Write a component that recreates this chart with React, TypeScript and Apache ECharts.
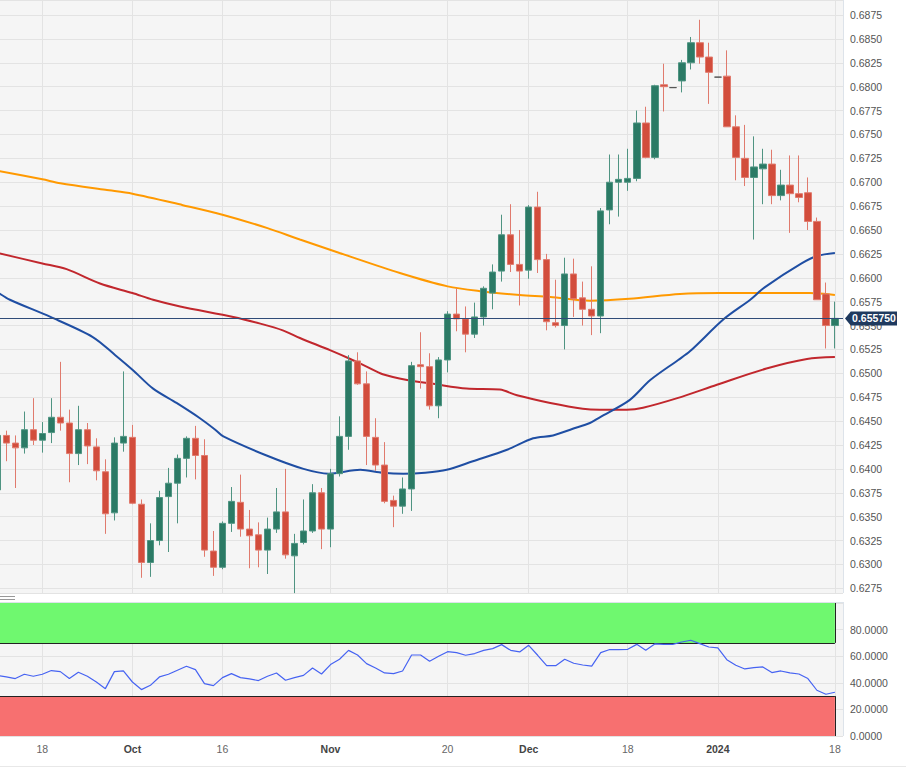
import React, { useEffect, useRef } from 'react';
import * as echarts from 'echarts';

// Daily candles, index 0 = 11 Sep 2023 ... index 93 = 18 Jan 2024 (trading days)
const opens = [
  0.6378, 0.6435, 0.6427, 0.6422, 0.6441, 0.6430, 0.6438, 0.6454, 0.6448, 0.6416,
  0.6441, 0.6423, 0.6397, 0.6354, 0.6427, 0.6433, 0.6363, 0.6302, 0.6325, 0.6371,
  0.6385, 0.6411, 0.6432, 0.6414, 0.6314, 0.6297, 0.6343, 0.6365, 0.6337, 0.6331,
  0.6315, 0.6337, 0.6355, 0.6309, 0.6323, 0.6335, 0.6375, 0.6337, 0.6395, 0.6434,
  0.6513, 0.6489, 0.6433, 0.6404, 0.6367, 0.6361, 0.6379, 0.6509, 0.6507, 0.6466,
  0.6514, 0.6562, 0.6557, 0.6541, 0.6559, 0.6584, 0.6607, 0.6645, 0.6614, 0.6608,
  0.6674, 0.6619, 0.6553, 0.6550, 0.6604, 0.6579, 0.6567, 0.6560, 0.6671, 0.6700,
  0.6700, 0.6704, 0.6762, 0.6726, 0.6802, 0.6799, 0.6806, 0.6825, 0.6846, 0.6831,
  0.6810, 0.6811, 0.6758, 0.6725, 0.6705, 0.6714, 0.6719, 0.6686, 0.6697, 0.6688,
  0.6689, 0.6659, 0.6583, 0.6550,
];
const closes = [
  0.6435, 0.6427, 0.6422, 0.6441, 0.6430, 0.6437, 0.6454, 0.6448, 0.6416, 0.6441,
  0.6424, 0.6398, 0.6353, 0.6427, 0.6434, 0.6364, 0.6302, 0.6325, 0.6370, 0.6385,
  0.6411, 0.6432, 0.6414, 0.6315, 0.6297, 0.6343, 0.6366, 0.6337, 0.6330, 0.6315,
  0.6337, 0.6355, 0.6310, 0.6322, 0.6335, 0.6375, 0.6337, 0.6395, 0.6434, 0.6513,
  0.6489, 0.6434, 0.6404, 0.6366, 0.6361, 0.6379, 0.6508, 0.6507, 0.6466, 0.6514,
  0.6562, 0.6557, 0.6541, 0.6559, 0.6589, 0.6606, 0.6645, 0.6614, 0.6607, 0.6674,
  0.6619, 0.6554, 0.6550, 0.6604, 0.6578, 0.6567, 0.6560, 0.6670, 0.6700, 0.6703,
  0.6704, 0.6762, 0.6726, 0.6801, 0.6800, 0.6799, 0.6825, 0.6846, 0.6831, 0.6815,
  0.6810, 0.6758, 0.6726, 0.6705, 0.6716, 0.6719, 0.6686, 0.6697, 0.6688, 0.6684,
  0.6659, 0.6577, 0.6550, 0.65575,
];
const lows = [
  0.6370, 0.6408, 0.6380, 0.6416, 0.6425, 0.6417, 0.6427, 0.6440, 0.6386, 0.6404,
  0.6405, 0.6388, 0.6332, 0.6346, 0.6418, 0.6363, 0.6286, 0.6287, 0.6320, 0.6313,
  0.6343, 0.6391, 0.6389, 0.6308, 0.6288, 0.6295, 0.6334, 0.6329, 0.6296, 0.6297,
  0.6290, 0.6333, 0.6306, 0.6270, 0.6321, 0.6333, 0.6316, 0.6318, 0.6392, 0.6420,
  0.6488, 0.6404, 0.6398, 0.6364, 0.6339, 0.6353, 0.6356, 0.6484, 0.6462, 0.6453,
  0.6501, 0.6544, 0.6522, 0.6537, 0.6550, 0.6567, 0.6596, 0.6606, 0.6571, 0.6599,
  0.6605, 0.6545, 0.6548, 0.6525, 0.6559, 0.6550, 0.6540, 0.6542, 0.6656, 0.6664,
  0.6691, 0.6701, 0.6725, 0.6724, 0.6774, 0.6799, 0.6794, 0.6818, 0.6824, 0.6782,
  0.6810, 0.6758, 0.6702, 0.6696, 0.6640, 0.6677, 0.6677, 0.6681, 0.6647, 0.6679,
  0.6650, 0.6577, 0.6526, 0.6526,
];
const highs = [
  0.6445, 0.6440, 0.6435, 0.6460, 0.6474, 0.6449, 0.6474, 0.6512, 0.6462, 0.6466,
  0.6448, 0.6432, 0.6410, 0.6433, 0.6502, 0.6446, 0.6368, 0.6343, 0.6377, 0.6401,
  0.6415, 0.6434, 0.6445, 0.6431, 0.6335, 0.6345, 0.6381, 0.6394, 0.6357, 0.6344,
  0.6349, 0.6380, 0.6400, 0.6332, 0.6368, 0.6384, 0.6380, 0.6400, 0.6455, 0.6519,
  0.6522, 0.6502, 0.6453, 0.6428, 0.6372, 0.6391, 0.6512, 0.6543, 0.6521, 0.6517,
  0.6565, 0.6589, 0.6570, 0.6574, 0.6591, 0.6614, 0.6666, 0.6677, 0.6650, 0.6676,
  0.6690, 0.6625, 0.6598, 0.6621, 0.6620, 0.6596, 0.6612, 0.6673, 0.6729, 0.6729,
  0.6735, 0.6775, 0.6779, 0.6802, 0.6824, 0.6799, 0.6828, 0.6852, 0.6870, 0.6846,
  0.6810, 0.6838, 0.6770, 0.6760, 0.6748, 0.6735, 0.6734, 0.6713, 0.6728, 0.6728,
  0.6705, 0.6663, 0.6595, 0.6575,
];

// Moving averages as [trading-day index, value]
const maBlue = [
  [0, 0.6585], [1.4, 0.6577], [5.9, 0.6559], [10.6, 0.6538], [13.1, 0.6519], [15.1, 0.6503],
  [17.3, 0.6484], [19.9, 0.6469], [22.5, 0.6453], [24.2, 0.6441], [25.1, 0.6434], [29.9, 0.6414],
  [34, 0.6400], [36.8, 0.6395], [40.3, 0.6399], [42.8, 0.6396], [45.1, 0.6395], [47.5, 0.6396],
  [49.9, 0.6399], [52.8, 0.6408], [56.6, 0.6420], [59.5, 0.6432], [61.7, 0.6435], [63.9, 0.6442],
  [65.8, 0.6448], [66.9, 0.6454], [70.2, 0.6472], [72.5, 0.6493], [75.6, 0.6514], [76.9, 0.6523],
  [80.7, 0.6557], [83.6, 0.6577], [85.2, 0.6590], [89.3, 0.6615], [91.1, 0.6623], [93, 0.6626],
];
const maRed = [
  [0, 0.6626], [5, 0.6615], [7.7, 0.6609], [11.4, 0.6594], [15, 0.6584], [17.3, 0.6577],
  [20.3, 0.6570], [26.2, 0.6559], [29.2, 0.6552], [31.7, 0.6545], [33.6, 0.6537], [37, 0.6524],
  [39.2, 0.6515], [41, 0.6507], [42.8, 0.6499], [45.5, 0.6493], [48.4, 0.6489], [52.1, 0.6484],
  [55.8, 0.6483], [57.7, 0.6477], [61.4, 0.6469], [65, 0.6463], [66.9, 0.6462], [69.9, 0.6462],
  [71.7, 0.6464], [75.5, 0.6474], [79.9, 0.6488], [85.4, 0.6505], [89.9, 0.6515], [93, 0.6517],
];
const maOrange = [
  [0, 0.6712], [5, 0.6703], [7, 0.6699], [12, 0.6692], [15, 0.6688], [20.6, 0.6676],
  [25, 0.6666], [30, 0.6652], [33.6, 0.6640], [38, 0.6626], [44.7, 0.6605], [50, 0.6591],
  [53.6, 0.6586], [58, 0.6582], [61.4, 0.6580], [65.8, 0.6576], [70.2, 0.6578], [75.8, 0.6583],
  [80.2, 0.6584], [85.8, 0.6584], [90.2, 0.6584], [93, 0.6582],
];

// RSI per trading day
const rsi = [
  45.5, 44.5, 43.2, 46.4, 44.9, 46.4, 49.2, 48.4, 43.2, 47.9,
  44.9, 40.6, 35.6, 48.4, 48.9, 40.6, 34.9, 38.1, 44.4, 46.4,
  49.4, 52.4, 49.9, 39.4, 37.9, 43.9, 46.9, 43.9, 42.9, 41.7,
  44.9, 47.4, 41.9, 43.9, 45.6, 51.1, 46.6, 53.7, 57.7, 64.4,
  60.9, 54.4, 51.1, 47.4, 46.9, 48.9, 60.9, 60.9, 56.2, 59.9,
  63.4, 62.7, 60.7, 62.0, 64.4, 65.7, 68.7, 64.4, 63.2, 68.2,
  60.7, 52.9, 52.9, 57.7, 54.7, 53.4, 52.6, 62.7, 65.0, 65.0,
  65.2, 68.9, 64.4, 69.2, 68.9, 68.9, 70.7, 72.0, 69.5, 66.9,
  66.2, 57.4, 53.2, 50.4, 51.4, 51.9, 47.7, 48.9, 47.4, 46.6,
  43.2, 34.4, 31.4, 32.9,
];

const xTickIdx = [5, 15, 25, 37, 50, 59, 70, 80, 93];
const xTickText = ['18', 'Oct', '16', 'Nov', '20', 'Dec', '18', '2024', '18'];
const boldTicks = ['Oct', 'Nov', 'Dec', '2024'];
const lastPrice = 0.65575;
const rsiUpper = 70;
const rsiLower = 30;

const X_MIN = 0.3;
const X_MAX = 93.9;
const FONT = '"Liberation Sans", Arial, Helvetica, sans-serif';

export default function App() {
  const ref = useRef<HTMLDivElement>(null);

  useEffect(() => {
    if (!ref.current) return;
    const chart = echarts.init(ref.current, null, { renderer: 'svg' });
    const lastIdx = opens.length - 1;
    const candles = opens.map((o, i) => [i, o, closes[i], lows[i], highs[i]]);
    const rsiData = rsi.map((v, i) => [i, v]);
    const gridLine = { show: true, lineStyle: { color: '#e3e3e3', width: 1 } };

    const option: any = {
      animation: false,
      backgroundColor: '#ffffff',
      textStyle: { fontFamily: FONT },
      grid: [
        { left: 0, top: 0, width: 843, height: 593, show: true, backgroundColor: '#f5f5f5', borderWidth: 0 },
        { left: 0, top: 603, width: 843, height: 133, show: true, backgroundColor: '#f5f5f5', borderWidth: 0 },
      ],
      xAxis: [
        {
          type: 'value', gridIndex: 0, min: X_MIN, max: X_MAX,
          axisLine: { show: false },
          axisTick: { show: false, customValues: xTickIdx },
          axisLabel: { show: false, customValues: xTickIdx },
          splitLine: gridLine,
        },
        {
          type: 'value', gridIndex: 1, min: X_MIN, max: X_MAX,
          axisLine: { show: false },
          axisTick: { show: false, customValues: xTickIdx },
          axisLabel: {
            customValues: xTickIdx,
            margin: 7,
            showMinLabel: true,
            showMaxLabel: true,
            formatter: (v: number) => {
              const k = xTickIdx.indexOf(Math.round(v));
              if (k < 0) return '';
              const t = xTickText[k];
              return boldTicks.includes(t) ? `{b|${t}}` : `{n|${t}}`;
            },
            rich: {
              b: { fontWeight: 'bold', color: '#444', fontSize: 10.5, fontFamily: FONT },
              n: { color: '#666', fontSize: 10.5, fontFamily: FONT },
            },
          },
          splitLine: gridLine,
        },
      ],
      yAxis: [
        {
          type: 'value', gridIndex: 0, position: 'right',
          min: 0.62701, max: 0.68907, minInterval: 0.0025, maxInterval: 0.0025,
          axisLine: { show: false }, axisTick: { show: false },
          axisLabel: {
            showMinLabel: false, showMaxLabel: false, margin: 7,
            color: '#555', fontSize: 10.5,
            formatter: (v: number) => v.toFixed(4),
          },
          splitLine: gridLine,
        },
        {
          type: 'value', gridIndex: 1, position: 'right',
          min: 0, max: 100, interval: 20,
          axisLine: { show: false }, axisTick: { show: false },
          axisLabel: {
            showMaxLabel: false, margin: 7, color: '#555', fontSize: 10.5,
            formatter: (v: number) => v.toFixed(4),
          },
          splitLine: gridLine,
        },
      ],
      series: [
        {
          name: 'MA red', type: 'line', xAxisIndex: 0, yAxisIndex: 0,
          data: maRed, showSymbol: false, smooth: 0.3,
          lineStyle: { color: '#c1272d', width: 2 }, z: 3,
        },
        {
          name: 'MA orange', type: 'line', xAxisIndex: 0, yAxisIndex: 0,
          data: maOrange, showSymbol: false, smooth: 0.3,
          lineStyle: { color: '#ff9900', width: 2 }, z: 3,
        },
        {
          name: 'MA blue', type: 'line', xAxisIndex: 0, yAxisIndex: 0,
          data: maBlue, showSymbol: false, smooth: 0.3,
          lineStyle: { color: '#1f4ea3', width: 2 }, z: 3,
        },
        {
          name: 'Price', type: 'candlestick', xAxisIndex: 0, yAxisIndex: 0,
          data: candles, encode: { x: 0, y: [1, 2, 3, 4] },
          barWidth: 7, z: 4,
          itemStyle: {
            color: '#2b7a65', color0: '#d24d3c',
            borderColor: '#4f9482', borderColor0: '#e07a6d',
            borderColorDoji: '#555555', borderWidth: 1,
          },
        },
        {
          name: 'Last', type: 'line', xAxisIndex: 0, yAxisIndex: 0,
          data: [[lastIdx, lastPrice]], showSymbol: false,
          lineStyle: { opacity: 0 }, z: 6,
          markLine: {
            silent: true, symbol: ['none', 'none'], animation: false,
            label: { show: false },
            lineStyle: { color: '#2f4b78', width: 1, type: 'solid' },
            data: [[{ coord: [X_MIN, lastPrice] }, { coord: [X_MAX, lastPrice] }]],
          },
          markPoint: {
            silent: true, animation: false,
            data: [{ coord: [X_MAX, lastPrice], value: lastPrice }],
            symbol: 'path://M0,7 L6,0 L54,0 L54,14 L6,14 Z',
            symbolSize: [52, 14],
            symbolOffset: [28, 0],
            itemStyle: { color: '#1f3a5f' },
            label: {
              show: true, position: 'inside', offset: [3, 0],
              color: '#ffffff', fontWeight: 'bold', fontSize: 10.5, fontFamily: FONT,
              formatter: () => lastPrice.toFixed(6),
            },
          },
        },
        {
          name: 'RSI', type: 'line', xAxisIndex: 1, yAxisIndex: 1,
          data: rsiData, showSymbol: false,
          lineStyle: { color: '#4663f2', width: 1.2 }, z: 5,
          markArea: {
            silent: true,
            data: [
              [{ xAxis: X_MIN, yAxis: rsiUpper, itemStyle: { color: '#6ff86f' } }, { xAxis: lastIdx, yAxis: 100 }],
              [{ xAxis: X_MIN, yAxis: 0, itemStyle: { color: '#f77070' } }, { xAxis: lastIdx, yAxis: rsiLower }],
            ],
          },
          markLine: {
            silent: true, symbol: ['none', 'none'], animation: false,
            label: { show: false },
            lineStyle: { color: '#222', width: 1, type: 'solid' },
            data: [
              [{ coord: [X_MIN, rsiUpper] }, { coord: [lastIdx, rsiUpper] }],
              [{ coord: [X_MIN, rsiLower] }, { coord: [lastIdx, rsiLower] }],
              [{ coord: [lastIdx, rsiUpper] }, { coord: [lastIdx, 100] }],
              [{ coord: [lastIdx, 0] }, { coord: [lastIdx, rsiLower] }],
            ],
          },
        },
      ],
      graphic: [
        { type: 'line', shape: { x1: 0, y1: 593.5, x2: 843, y2: 593.5 }, style: { stroke: '#dde3ea', lineWidth: 1 }, silent: true },
        { type: 'line', shape: { x1: 843.5, y1: 0, x2: 843.5, y2: 593 }, style: { stroke: '#dde3ea', lineWidth: 1 }, silent: true },
        { type: 'line', shape: { x1: 0, y1: 602.5, x2: 843, y2: 602.5 }, style: { stroke: '#dde3ea', lineWidth: 1 }, silent: true },
        { type: 'line', shape: { x1: 843.5, y1: 602, x2: 843.5, y2: 736 }, style: { stroke: '#dde3ea', lineWidth: 1 }, silent: true },
        { type: 'line', shape: { x1: 0, y1: 736.5, x2: 843, y2: 736.5 }, style: { stroke: '#e6e9ee', lineWidth: 1 }, silent: true },
        { type: 'line', shape: { x1: 0, y1: 766.5, x2: 906, y2: 766.5 }, style: { stroke: '#e8e8e8', lineWidth: 1 }, silent: true },
        { type: 'line', shape: { x1: 0, y1: 596.5, x2: 15, y2: 596.5 }, style: { stroke: '#999', lineWidth: 1 }, silent: true },
        { type: 'line', shape: { x1: 0, y1: 599.5, x2: 15, y2: 599.5 }, style: { stroke: '#999', lineWidth: 1 }, silent: true },
      ],
    };

    chart.setOption(option);
    return () => chart.dispose();
  }, []);

  return (
    <div
      ref={ref}
      style={{ position: 'absolute', left: 0, top: 0, width: 906, height: 773, background: '#ffffff' }}
    />
  );
}
